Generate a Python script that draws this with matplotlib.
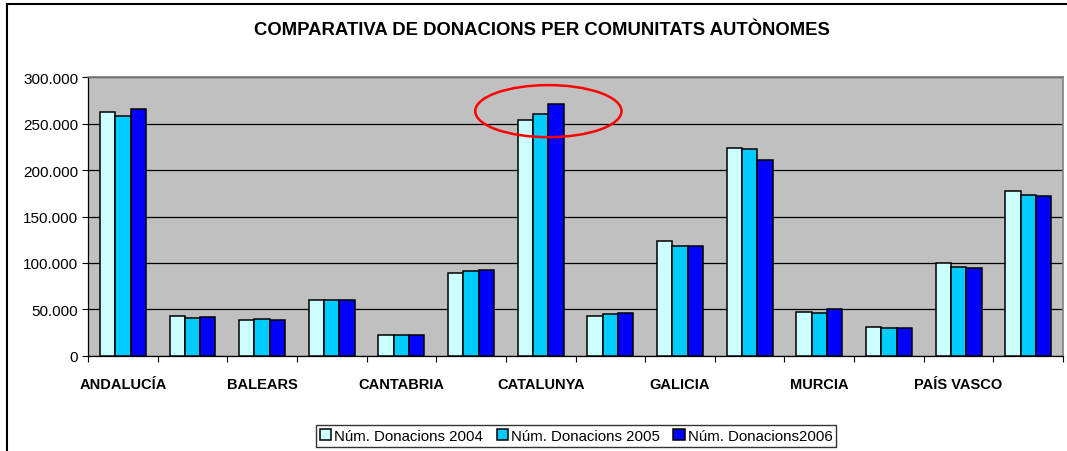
import numpy as np
import matplotlib
matplotlib.use("Agg")
import matplotlib.pyplot as plt
from matplotlib.patches import Ellipse
from matplotlib.lines import Line2D

# ===============================
# Data
# ===============================
comunitats = ["ANDALUCÍA", "ARAGÓ", "BALEARS", "CANÀRIES", "CANTABRIA", "CASTELLA",
              "CATALUNYA", "EXTREMADURA", "GALICIA", "MADRID", "MURCIA", "NAVARRA",
              "PAÍS VASCO", "VALÈNCIA"]
don_2004 = [262300, 42800, 39200, 60400, 23000, 89500, 253300,
            42800, 123200, 224200, 47400, 30900, 99500, 177800]
don_2005 = [257600, 41000, 39900, 60700, 22600, 91600, 259800,
            44900, 118600, 222400, 46700, 30200, 95900, 173500]
don_2006 = [265100, 42400, 38800, 60700, 22600, 92000, 270900,
            46300, 118600, 210900, 50300, 30200, 94500, 172500]
series_names = ["Núm. Donacions 2004", "Núm. Donacions 2005", "Núm. Donacions2006"]
colors = ["#CCFFFF", "#00CCFF", "#0000FF"]
y_ticks = [0, 50000, 100000, 150000, 200000, 250000, 300000]

plt.rcParams["font.family"] = ["Liberation Sans", "DejaVu Sans"]

fig = plt.figure(figsize=(10.67, 4.52), dpi=100)
ax = fig.add_axes([0.0825, 0.2102, 0.9138, 0.6172])
ax.set_facecolor("#C0C0C0")

# ===============================
# Bars
# ===============================
x = np.arange(len(comunitats)) + 0.5
w = 0.22
for k, vals in enumerate([don_2004, don_2005, don_2006]):
    ax.bar(x + (k - 1) * w, vals, width=w, color=colors[k], edgecolor="black",
           linewidth=1.1, label=series_names[k], zorder=3)

ax.set_xlim(0, len(comunitats))
ax.set_ylim(0, 300000)

# grid + axes
ax.set_yticks(y_ticks)
ax.set_yticklabels([f"{v:,.0f}".replace(",", ".") for v in y_ticks], fontsize=11)
ax.yaxis.grid(True, color="black", linewidth=0.9, zorder=1)
ax.set_axisbelow(True)

ax.set_xticks(np.arange(len(comunitats) + 1))
ax.set_xticklabels([])
ax.set_xticks(x[::2], minor=True)
ax.set_xticklabels(comunitats[::2], minor=True, fontsize=10.5, fontweight="bold")
ax.tick_params(axis="x", which="minor", length=0, pad=15)
ax.tick_params(axis="x", which="major", length=4, width=0.8, direction="out")
ax.tick_params(axis="y", length=4, width=0.8, direction="out", pad=3)

for side in ["top", "right"]:
    ax.spines[side].set_color("#808080")
    ax.spines[side].set_linewidth(1.2)
for side in ["left", "bottom"]:
    ax.spines[side].set_color("black")
    ax.spines[side].set_linewidth(0.9)

# red circle around Catalunya
ax.add_patch(Ellipse((6.61, 263300), 2.1, 56000, fill=False, edgecolor="red",
                     linewidth=1.8, zorder=5, clip_on=False))

# ===============================
# Title, legend, border
# ===============================
fig.text(0.508, 0.932, "COMPARATIVA DE DONACIONS PER COMUNITATS AUTÒNOMES",
         ha="center", va="center", fontsize=13.3, fontweight="bold")

leg = fig.legend(loc="center", bbox_to_anchor=(0.54, 0.033), ncol=3, fontsize=10.8,
                 frameon=True, fancybox=False, handlelength=0.75, handleheight=0.75,
                 handletextpad=0.2, columnspacing=0.9, borderpad=0.25,
                 borderaxespad=0)
leg.get_frame().set_edgecolor("black")
leg.get_frame().set_linewidth(1.0)

fig.add_artist(Line2D([7 / 1067, 7 / 1067], [0, 1 - 5 / 452], transform=fig.transFigure,
                      color="black", linewidth=1.5))
fig.add_artist(Line2D([7 / 1067, 1], [1 - 5 / 452, 1 - 5 / 452], transform=fig.transFigure,
                      color="black", linewidth=1.5))

fig.savefig("out.png", dpi=100)
